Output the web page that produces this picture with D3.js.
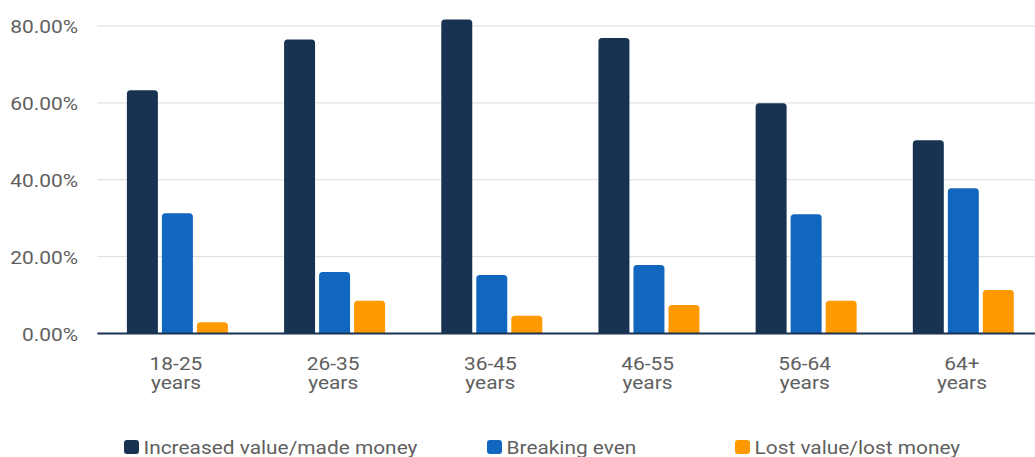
<!DOCTYPE html>
<html>
<head>
<meta charset="utf-8">
<script src="https://cdn.jsdelivr.net/npm/d3@7"></script>
<style>
  html, body { margin: 0; padding: 0; background: #fff; }
  svg { display: block; font-family: Roboto, "Noto Sans", sans-serif; }
</style>
</head>
<body>
<svg id="chart" width="1035" height="457"></svg>
<script>
// Age groups (two-line labels) and the share of respondents per outcome
const categories = ["18-25 years", "26-35 years", "36-45 years", "46-55 years", "56-64 years", "64+ years"];
const seriesNames = ["Increased value/made money", "Breaking even", "Lost value/lost money"];
const increased = [63.3, 76.5, 81.7, 76.9, 59.9, 50.3];
const breakingEven = [31.3, 16.0, 15.2, 17.8, 31.0, 37.8];
const lost = [2.9, 8.5, 4.6, 7.4, 8.5, 11.3];
const yTicks = [0, 20, 40, 60, 80];
const colors = ["#173351", "#1167bf", "#fe9900"];

const series = [increased, breakingEven, lost];

const svg = d3.select("#chart");
const width = 1035;
const plotLeft = 97.4, plotRight = 1040.5, plotTop = 26, plotBottom = 333.5;
const textColor = "#5f5f5f";
const stretch = 1.1; // text is drawn slightly wide

const x = d3.scaleBand()
  .domain(categories)
  .range([plotLeft, plotRight]);

const inner = d3.scaleBand()
  .domain(d3.range(series.length))
  .range([29.5, 29.5 + 101])
  .paddingInner(0.115);

const y = d3.scaleLinear().domain([0, 80]).range([plotBottom, plotTop]);

// gridlines
svg.append("g")
  .selectAll("line")
  .data(yTicks.filter(d => d > 0))
  .join("line")
  .attr("x1", plotLeft)
  .attr("x2", width)
  .attr("y1", d => y(d))
  .attr("y2", d => y(d))
  .attr("stroke", "#dcdcdc")
  .attr("stroke-width", 1);

// y tick labels
const yAxis = d3.axisLeft(y)
  .tickValues(yTicks)
  .tickSize(0)
  .tickPadding(0)
  .tickFormat(d => d3.format(".2f")(d) + "%");
svg.append("g")
  .attr("transform", `translate(78,0)`)
  .call(yAxis)
  .call(g => g.select(".domain").remove())
  .call(g => g.selectAll(".tick text")
    .attr("x", 0)
    .attr("dy", "0.36em")
    .attr("transform", `scale(${stretch},1)`)
    .attr("font-size", 19)
    .attr("fill", textColor)
    .attr("font-family", "Roboto, sans-serif"));

// rounded-top bar path
function barPath(x0, w, yTop, yBase, r) {
  r = Math.min(r, (yBase - yTop) / 2, w / 2);
  return `M${x0},${yBase}V${yTop + r}Q${x0},${yTop} ${x0 + r},${yTop}` +
    `H${x0 + w - r}Q${x0 + w},${yTop} ${x0 + w},${yTop + r}V${yBase}Z`;
}

const groups = svg.append("g")
  .selectAll("g")
  .data(categories)
  .join("g")
  .attr("transform", d => `translate(${x(d)},0)`);

groups.selectAll("path")
  .data((d, i) => series.map((s, k) => ({ k, v: s[i] })))
  .join("path")
  .attr("d", d => barPath(inner(d.k), inner.bandwidth(), y(d.v), y(0), 3.5))
  .attr("fill", d => colors[d.k]);

// baseline
svg.append("line")
  .attr("x1", plotLeft)
  .attr("x2", width)
  .attr("y1", y(0))
  .attr("y2", y(0))
  .attr("stroke", "#1b3350")
  .attr("stroke-width", 2);

// x labels (two lines)
const xl = svg.append("g")
  .selectAll("text")
  .data(categories)
  .join("text")
  .attr("transform", d => `translate(${x(d) + x.bandwidth() / 2},370) scale(${stretch},1)`)
  .attr("text-anchor", "middle")
  .attr("font-size", 19)
  .attr("fill", textColor);
xl.each(function(d) {
  const parts = d.split(" ");
  const t = d3.select(this);
  t.append("tspan").attr("x", 0).attr("dy", 0).text(parts[0]);
  t.append("tspan").attr("x", 0).attr("dy", 19).text(parts[1]);
});

// legend
const legendX = [124, 487, 735];
const legend = svg.append("g")
  .selectAll("g")
  .data(seriesNames)
  .join("g")
  .attr("transform", (d, i) => `translate(${legendX[i]},447)`);
legend.append("rect")
  .attr("x", 0).attr("y", -7)
  .attr("width", 15).attr("height", 14)
  .attr("rx", 3)
  .attr("fill", (d, i) => colors[i]);
legend.append("text")
  .attr("transform", `translate(19.5,6.5) scale(1.11,1)`)
  .attr("font-size", 18.8)
  .attr("fill", textColor)
  .text(d => d);
</script>
</body>
</html>
